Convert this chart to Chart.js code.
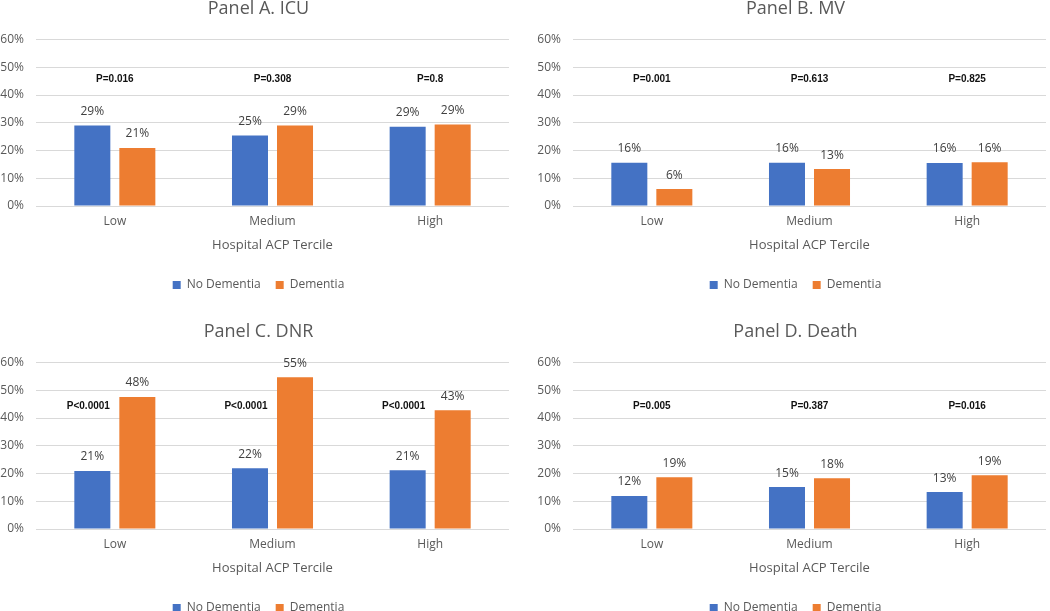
<!DOCTYPE html>
<html>
<head>
<meta charset="utf-8">
<script src="https://cdn.jsdelivr.net/npm/chart.js@4.4.0/dist/chart.umd.min.js"></script>
<style>
  body { margin: 0; background: #fff; width: 1050px; height: 611px; overflow: hidden; position: relative; }
  .panel { position: absolute; width: 525px; height: 305px; }
</style>
</head>
<body>
<div class="panel" style="left:0;top:-3px"><canvas id="icu" width="525" height="305"></canvas></div>
<div class="panel" style="left:537px;top:-3px"><canvas id="mv" width="525" height="305"></canvas></div>
<div class="panel" style="left:0;top:320px"><canvas id="dnr" width="525" height="305"></canvas></div>
<div class="panel" style="left:537px;top:320px"><canvas id="death" width="525" height="305"></canvas></div>
<script>
// Data
const terciles = ['Low', 'Medium', 'High'];
const yTicks = [0, 10, 20, 30, 40, 50, 60];

const icuNoDem = [29.0, 25.4, 28.6];
const icuDem = [20.9, 29.0, 29.4];
const icuP = ['P=0.016', 'P=0.308', 'P=0.8'];

const mvNoDem = [15.6, 15.6, 15.5];
const mvDem = [6.1, 13.3, 15.8];
const mvP = ['P=0.001', 'P=0.613', 'P=0.825'];

const dnrNoDem = [20.9, 21.9, 21.2];
const dnrDem = [47.6, 54.7, 42.8];
const dnrP = ['P<0.0001', 'P<0.0001', 'P<0.0001'];

const deathNoDem = [11.9, 15.1, 13.3];
const deathDem = [18.7, 18.3, 19.4];
const deathP = ['P=0.005', 'P=0.387', 'P=0.016'];

const BLUE = '#4472C4';
const ORANGE = '#ED7D31';
const GREY = '#595959';
const FONT = '"Open Sans", sans-serif';

// draws the % above every bar and the p-value row
function makeLabels(pTexts, level, overBlue) {
    return {
        id: 'barLabels',
        afterDatasetsDraw(chart) {
            const ctx = chart.ctx;
            ctx.save();
            ctx.textAlign = 'center';
            ctx.textBaseline = 'middle';
            ctx.font = '12px ' + FONT;
            ctx.fillStyle = '#404040';
            chart.data.datasets.forEach((ds, i) => {
                chart.getDatasetMeta(i).data.forEach((bar, j) => {
                    ctx.fillText(Math.round(ds.data[j]) + '%', bar.x, bar.y - 14);
                });
            });
            const y = chart.scales.y.getPixelForValue(level);
            ctx.font = 'bold 10px "Liberation Sans", sans-serif';
            ctx.fillStyle = '#111';
            pTexts.forEach((t, j) => {
                const x = overBlue
                    ? chart.getDatasetMeta(0).data[j].x - 4
                    : chart.scales.x.getPixelForValue(j);
                ctx.fillText(t, x, y);
            });
            ctx.restore();
        }
    };
}

function drawPanel(id, title, noDem, dem, pTexts, level, overBlue) {
    return new Chart(id, {
        type: 'bar',
        data: {
            labels: terciles,
            datasets: [
                { label: 'No Dementia', data: noDem, backgroundColor: BLUE },
                { label: 'Dementia', data: dem, backgroundColor: ORANGE }
            ]
        },
        options: {
            responsive: false,
            animation: false,
            categoryPercentage: 0.571,
            barPercentage: 0.8,
            layout: { padding: { left: 0, right: 8, top: 0, bottom: 1 } },
            plugins: {
                title: {
                    display: true,
                    text: title,
                    color: GREY,
                    font: { family: FONT, size: 18, weight: 'normal' },
                    padding: { top: 1, bottom: 20 }
                },
                legend: {
                    position: 'bottom',
                    labels: {
                        color: GREY,
                        font: { family: FONT, size: 12 },
                        boxWidth: 8,
                        boxHeight: 8,
                        padding: 15
                    }
                },
                tooltip: { enabled: false }
            },
            scales: {
                x: {
                    grid: { display: false, drawTicks: false },
                    border: { display: false },
                    ticks: { color: GREY, font: { family: FONT, size: 12 }, padding: 8.5 },
                    title: {
                        display: true,
                        text: 'Hospital ACP Tercile',
                        color: GREY,
                        font: { family: FONT, size: 13 },
                        padding: { top: 0, bottom: 11 }
                    }
                },
                y: {
                    min: 0,
                    max: 60,
                    afterBuildTicks: (axis) => { axis.ticks = yTicks.map(v => ({ value: v })); },
                    afterFit: (axis) => { axis.width = 36; },
                    grid: { color: '#d9d9d9', drawTicks: false },
                    border: { display: false },
                    ticks: {
                        color: GREY,
                        font: { family: FONT, size: 12 },
                        padding: 12,
                        callback: (v) => v + '%'
                    }
                },
                // empty spacer on the right so the plot ends where the original does
                spacer: {
                    type: 'linear',
                    position: 'right',
                    grid: { display: false },
                    border: { display: false },
                    ticks: { display: false },
                    afterFit: (axis) => { axis.width = 8; }
                }
            }
        },
        plugins: [makeLabels(pTexts, level, overBlue)]
    });
}

drawPanel('icu', 'Panel A. ICU', icuNoDem, icuDem, icuP, 45.7, false);
drawPanel('mv', 'Panel B. MV', mvNoDem, mvDem, mvP, 45.7, false);
drawPanel('dnr', 'Panel C. DNR', dnrNoDem, dnrDem, dnrP, 44.2, true);
drawPanel('death', 'Panel D. Death', deathNoDem, deathDem, deathP, 44.2, false);
</script>
</body>
</html>
